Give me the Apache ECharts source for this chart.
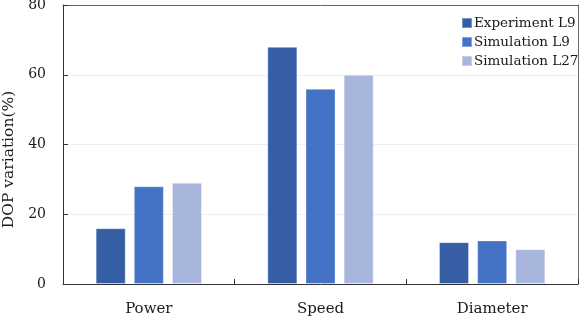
<!DOCTYPE html>
<html>
<head>
<meta charset="utf-8">
<script src="https://cdn.jsdelivr.net/npm/echarts@6/dist/echarts.min.js"></script>
<style>
  html, body { margin: 0; padding: 0; background: #fff; }
  #chart { width: 587px; height: 320px; }
</style>
</head>
<body>
<div id="chart"></div>
<script>
var categories = ['Power', 'Speed', 'Diameter'];
var experimentL9 = [16, 68, 12];
var simulationL9 = [28, 56, 12.5];
var simulationL27 = [29, 60, 10];
var yTicks = [0, 20, 40, 60, 80];

var chartDom = document.getElementById('chart');
var myChart = echarts.init(chartDom);
var font = 'DejaVu Serif';

function barSeries(name, data, color) {
    return {
        name: name,
        type: 'bar',
        data: data,
        barWidth: '17.5%',
        barGap: '27%',
        itemStyle: {
            color: color,
            borderColor: 'rgba(255,255,255,0.35)',
            borderWidth: 1
        }
    };
}

var option = {
    animation: false,
    textStyle: { fontFamily: font },
    legend: {
        orient: 'vertical',
        left: 456,
        top: 11,
        itemWidth: 10,
        itemHeight: 10,
        itemGap: 5,
        icon: 'rect',
        textStyle: { fontFamily: font, fontSize: 13.5, color: '#1a1a1a', padding: [0, 0, 0, -3] },
        data: ['Experiment L9', 'Simulation L9', 'Simulation L27']
    },
    grid: {
        left: 63,
        right: 9,
        top: 5,
        bottom: 36,
        outerBoundsMode: 'none',
        containLabel: false
    },
    xAxis: [{
        type: 'category',
        data: categories,
        axisLine: { lineStyle: { color: '#333' } },
        axisTick: { show: true, inside: true, length: 5, lineStyle: { color: '#333' } },
        axisLabel: { fontFamily: font, fontSize: 15, color: '#1a1a1a', margin: 18 }
    }, {
        type: 'category',
        position: 'top',
        data: categories,
        axisLine: { show: true, onZero: false, lineStyle: { color: '#666' } },
        axisTick: { show: false },
        axisLabel: { show: false }
    }],
    yAxis: [{
        type: 'value',
        min: 0,
        max: 80,
        interval: 20,
        name: 'DOP variation(%)',
        nameLocation: 'middle',
        nameGap: 44,
        nameTextStyle: { fontFamily: font, fontSize: 15.5, color: '#1a1a1a', padding: [0, 30, 0, 0] },
        axisLine: { show: true, lineStyle: { color: '#333' } },
        axisTick: { show: true, inside: true, length: 5, lineStyle: { color: '#333' } },
        splitLine: { show: true, lineStyle: { color: '#eeeeee' } },
        axisLabel: {
            fontFamily: font, fontSize: 14, color: '#1a1a1a', margin: 17,
            formatter: function (v) { return yTicks.indexOf(v) >= 0 ? String(v) : ''; }
        }
    }, {
        type: 'value',
        position: 'right',
        min: 0,
        max: 80,
        interval: 20,
        axisLine: { show: true, onZero: false, lineStyle: { color: '#666' } },
        axisTick: { show: false },
        splitLine: { show: false },
        axisLabel: { show: false }
    }],
    series: [
        barSeries('Experiment L9', experimentL9, '#355EA5'),
        barSeries('Simulation L9', simulationL9, '#4472C4'),
        barSeries('Simulation L27', simulationL27, '#A8B6DD')
    ]
};

option && myChart.setOption(option);
</script>
</body>
</html>
